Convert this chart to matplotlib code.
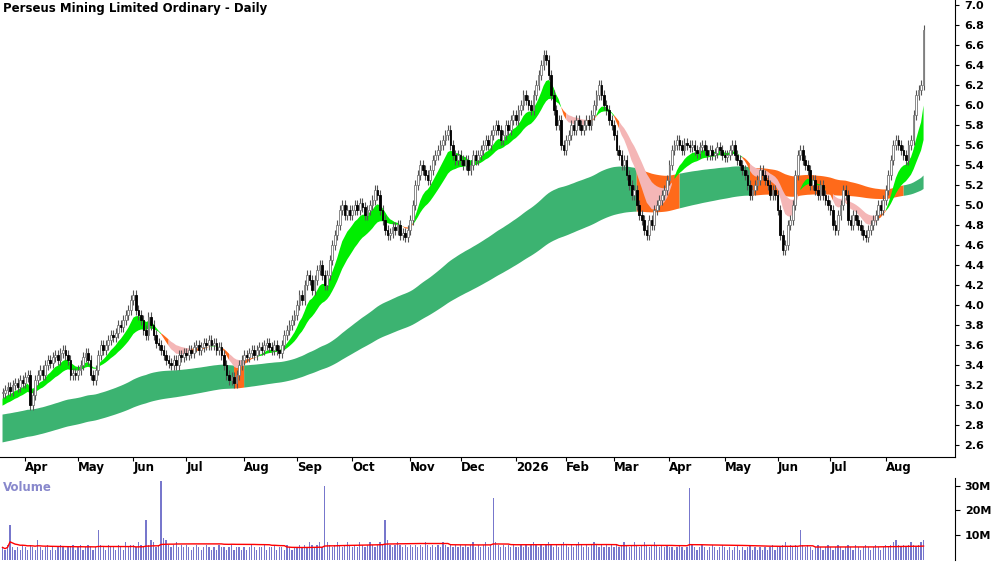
import numpy as np
import pandas as pd
import matplotlib
matplotlib.use("Agg")
import matplotlib.pyplot as plt

month_labels = ["Apr","May","Jun","Jul","Aug","Sep","Oct","Nov","Dec","2026","Feb","Mar","Apr","May","Jun","Jul","Aug"]
pre = [3.12,3.15,3.18,3.14,3.2,3.22,3.18,3.25,3.22]
months = [
 [3.28,3.3,3.0,3.1,3.25,3.3,3.35,3.3,3.4,3.45,3.42,3.48,3.5,3.45,3.52,3.55,3.5,3.45,3.3,3.32,3.3],
 [3.35,3.4,3.48,3.52,3.45,3.3,3.25,3.35,3.5,3.6,3.55,3.6,3.65,3.7,3.68,3.72,3.8,3.78,3.85,3.9,3.95,4.05],
 [4.1,3.95,3.9,3.85,3.75,3.7,3.88,3.8,3.7,3.62,3.6,3.55,3.5,3.45,3.42,3.4,3.45,3.4,3.5,3.48,3.52],
 [3.5,3.55,3.52,3.58,3.6,3.55,3.58,3.62,3.6,3.65,3.6,3.62,3.55,3.58,3.5,3.4,3.3,3.25,3.28,3.22,3.3,3.4,3.45],
 [3.5,3.48,3.52,3.55,3.5,3.55,3.58,3.55,3.6,3.62,3.58,3.55,3.6,3.55,3.52,3.6,3.7,3.75,3.8,3.85,3.9],
 [4.0,4.1,4.05,4.2,4.3,4.25,4.15,4.25,4.35,4.4,4.3,4.2,4.3,4.45,4.6,4.7,4.8,4.95,5.0,4.9,4.95,4.9],
 [4.95,5.0,4.95,5.02,4.98,4.9,4.95,5.0,5.05,5.15,5.1,4.95,4.85,4.75,4.7,4.72,4.78,4.75,4.8,4.7,4.72,4.68,4.75],
 [4.85,5.0,5.2,5.3,5.4,5.35,5.3,5.25,5.35,5.45,5.5,5.55,5.6,5.65,5.7,5.75,5.6,5.5,5.45,5.5],
 [5.45,5.4,5.45,5.35,5.4,5.5,5.45,5.5,5.55,5.6,5.65,5.6,5.7,5.75,5.8,5.75,5.65,5.7,5.8,5.75,5.85,5.9],
 [5.85,5.95,6.0,6.1,6.05,6.0,5.95,6.1,6.2,6.3,6.4,6.5,6.45,6.3,6.1,5.95,5.8,5.85,5.6,5.55],
 [5.65,5.7,5.8,5.75,5.85,5.8,5.75,5.8,5.85,5.8,5.9,6.0,6.1,6.2,6.1,6.0,5.95,5.85,5.8],
 [5.7,5.55,5.5,5.4,5.45,5.3,5.2,5.1,5.15,5.0,4.9,4.85,4.75,4.7,4.85,4.8,4.95,5.0,5.05,5.1,5.15,5.25],
 [5.4,5.55,5.6,5.65,5.6,5.55,5.62,5.6,5.58,5.6,5.55,5.52,5.58,5.6,5.55,5.5,5.55,5.5,5.52,5.58,5.55,5.5],
 [5.48,5.5,5.55,5.6,5.5,5.45,5.4,5.35,5.3,5.2,5.1,5.15,5.2,5.25,5.35,5.3,5.25,5.2,5.1,5.15,5.1],
 [4.95,4.7,4.55,4.6,4.8,4.85,5.0,5.3,5.5,5.55,5.45,5.4,5.35,5.2,5.25,5.15,5.1,5.2,5.1,5.05,5.0],
 [4.95,4.8,4.75,4.9,5.0,5.15,5.1,4.85,4.8,4.9,4.85,4.8,4.75,4.7,4.68,4.75,4.8,4.85,4.9,5.0,4.95,5.05],
 [5.15,5.3,5.45,5.6,5.65,5.6,5.55,5.5,5.45,5.6,5.65,5.9,6.1,6.15,6.2,6.75],
]
volume_m = [
 5,4,6,14,5,4,5,4,6,
 5,4,6,5,4,8,5,4,5,6,4,5,4,5,6,5,4,5,5,6,4,
 5,6,4,5,6,5,4,5,12,6,5,4,6,5,5,4,6,5,4,7,5,6,
 6,5,7,6,5,16,6,8,7,5,6,32,9,8,6,5,6,7,5,6,5,
 6,5,4,5,6,5,4,5,6,5,4,5,4,6,5,5,4,5,6,4,5,5,4,
 5,4,5,6,5,4,5,5,6,4,5,5,6,4,5,5,4,6,5,4,5,
 5,6,5,6,5,7,6,5,6,7,5,30,7,6,5,6,7,6,5,6,7,6,5,
 6,5,7,6,5,6,7,6,5,6,7,6,16,8,6,5,6,7,6,5,6,5,6,
 5,6,5,6,5,7,6,5,6,5,6,5,7,6,5,6,5,6,5,6,
 5,6,5,6,7,5,6,5,6,7,5,6,25,7,6,5,6,5,6,5,6,5,
 5,6,5,6,5,6,7,6,5,6,5,6,7,6,5,6,5,6,7,6,
 5,6,5,6,7,6,5,6,5,6,7,6,5,6,5,6,5,6,5,
 6,5,6,7,6,5,6,7,6,5,6,7,6,5,6,7,6,5,6,5,6,5,
 5,4,5,6,5,4,5,29,6,5,4,5,6,5,4,5,6,5,4,5,6,5,
 4,5,4,5,6,4,5,4,5,6,4,5,4,5,4,5,4,5,6,4,5,
 5,6,7,5,6,5,6,5,12,6,5,6,5,4,5,6,5,4,5,6,5,
 4,5,6,5,4,5,6,5,4,6,5,4,5,6,5,4,5,6,5,4,5,6,
 5,6,7,8,6,5,6,5,6,7,6,5,6,7,8,6,
]

close = np.array(pre + [v for m in months for v in m])
n = len(close)
vol = np.array(volume_m[:n] + [5]*(n-len(volume_m)))*1e6
op = np.concatenate([[close[0]], close[:-1]])
hi = np.maximum(op, close) + 0.05
lo = np.minimum(op, close) - 0.05
month_starts = np.cumsum([len(pre)] + [len(m) for m in months[:-1]])

def ema(vals, span, seed):
    a = 2.0 / (span + 1)
    out = np.empty(len(vals)); prev = seed
    for i, v in enumerate(vals):
        prev = prev + a * (v - prev); out[i] = prev
    return out

e_f = ema(close, 10, 3.05)
e_s = ema(close, 22, 2.98)
l_t = ema(close, 120, 2.9)
l_b = ema(close, 200, 2.62)
x = np.arange(n)

fig = plt.figure(figsize=(10, 5.62), dpi=100)
ax = fig.add_axes([0.0, 0.187, 0.955, 0.813])
axv = fig.add_axes([0.0, 0.004, 0.955, 0.145])

def grow(m):
    return m | np.roll(m, 1)

lo_short = np.minimum(e_f, e_s); hi_short = np.maximum(e_f, e_s)
g = e_f >= e_s
o = (~g) & (np.abs(e_f - e_s) < 0.05)
p = (~g) & ~o
long_or = lo_short < l_t
ax.fill_between(x, l_b, l_t, where=grow(~long_or), color="#3cb371", lw=0)
ax.fill_between(x, l_b, l_t, where=grow(long_or), color="#ff6a1a", lw=0)
ax.fill_between(x, lo_short, hi_short, where=grow(g), color="#00ee00", lw=0)
ax.fill_between(x, lo_short, hi_short, where=grow(o), color="#ff6a1a", lw=0)
ax.fill_between(x, lo_short, hi_short, where=grow(p), color="#f4b6b6", lw=0)

for i in range(n):
    up = close[i] >= op[i]
    ax.vlines(i, lo[i], hi[i], color="#555555", lw=0.8, zorder=3)
    b0 = min(op[i], close[i]); h = max(abs(close[i]-op[i]), 0.01)
    ax.add_patch(plt.Rectangle((i-0.35, b0), 0.7, h, facecolor="white" if up else "black",
                               edgecolor="#777777" if up else "black", lw=0.6, zorder=4))

xmax = (n-1)/0.967
ax.set_xlim(-1, xmax)
ax.set_ylim(2.48, 7.05)
ax.yaxis.tick_right()
yt = np.round(np.arange(2.6, 7.01, 0.2), 1)
ax.set_yticks(yt)
ax.set_yticklabels([f"{v:.1f}" for v in yt], fontsize=8, fontweight="bold")
ax.set_xticks(month_starts)
ax.set_xticklabels(month_labels, fontsize=8.5, fontweight="bold", ha="left")
ax.tick_params(axis="x", length=3, pad=0, direction="out")
ax.tick_params(axis="y", length=3, direction="out")
for sp in ["top", "left"]:
    ax.spines[sp].set_visible(False)
ax.text(0.003, 0.995, "Perseus Mining Limited Ordinary - Daily", transform=ax.transAxes,
        fontsize=8.5, fontweight="bold", va="top", ha="left")

axv.bar(x, vol, width=0.5, color="#7777cc")
axv.plot(x, pd.Series(vol).rolling(50, min_periods=1).mean().values, color="red", lw=1)
axv.set_xlim(-1, xmax)
axv.set_ylim(0, 3.3e7)
axv.yaxis.tick_right()
axv.set_yticks([1e7, 2e7, 3e7])
axv.set_yticklabels(["10M", "20M", "30M"], fontsize=8, fontweight="bold")
axv.set_xticks([])
for sp in ["top", "left", "bottom"]:
    axv.spines[sp].set_visible(False)
axv.text(0.003, 0.97, "Volume", transform=axv.transAxes, fontsize=8.5, fontweight="bold",
         color="#8888cc", va="top")
fig.savefig("out.png", dpi=100)
